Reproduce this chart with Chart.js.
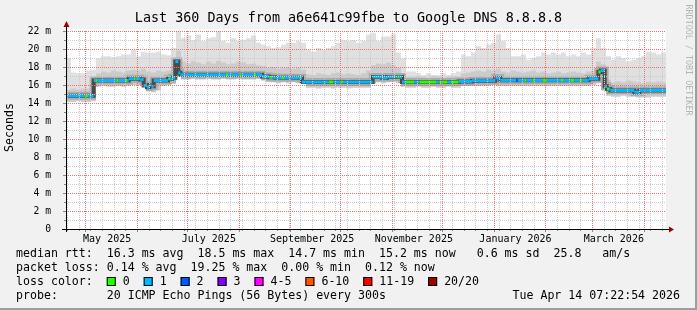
<!DOCTYPE html>
<html>
<head>
<meta charset="utf-8">
<script src="https://cdn.jsdelivr.net/npm/chart.js@4.4.1/dist/chart.umd.min.js"></script>
<style>
  html, body { margin: 0; padding: 0; background: #f1f1f1; }
  #wrap { width: 697px; height: 310px; }
</style>
</head>
<body>
<div id="wrap"><canvas id="graficaSmoke" width="697" height="310"></canvas></div>
<script>
// Texts
const titulo = 'Last 360 Days from a6e641c99fbe to Google DNS 8.8.8.8';
const yTitle = 'Seconds';
const watermark = 'RRDTOOL / TOBI OETIKER';
const legendRows = [
    'median rtt:  16.3 ms avg  18.5 ms max  14.7 ms min  15.2 ms now   0.6 ms sd  25.8   am/s',
    'packet loss: 0.14 % avg  19.25 % max  0.00 % min  0.12 % now'
];
const lossTitle = 'loss color:  ';
const probeRow = 'probe:       20 ICMP Echo Pings (56 Bytes) every 300s';
const stamp = 'Tue Apr 14 07:22:54 2026';

// Loss levels
const lossLabels = ['0', '1', '2', '3', '4-5', '6-10', '11-19', '20/20'];
const lossColors = ['#26ff00', '#00b8ff', '#0059ff', '#7e00ff', '#ff00ff', '#ff5500', '#ff0000', '#a10000'];

// X axis: days since Apr 19 2025 07:22
const monthStarts = [11.69, 42.69, 72.69, 103.69, 134.69, 164.69, 195.69, 225.69, 256.69, 287.69, 315.69, 346.69];
const monthLabels = ['May 2025', 'July 2025', 'September 2025', 'November 2025', 'January 2026', 'March 2026'];
const labelDays = [24.69, 85.69, 147.69, 208.69, 269.69, 328.69];
const firstSunday = 0.69;
const yMax = 22;

// Smoke envelopes (ms), one value every 3 days from day 0 to day 360
const envStep = 3;
const maxEnv = [
    19.0, 17.4, 17.3, 17.3, 17.6, 17.7, 19.0, 19.2, 19.2, 19.1, 19.2, 19.4, 19.4, 19.9, 19.2, 19.7,
    19.6, 19.6, 19.7, 19.4, 19.3, 20.1, 22.1, 21.2, 21.5, 21.0, 21.6, 20.9, 21.2, 21.3, 21.9, 20.9,
    20.7, 21.2, 20.9, 21.0, 21.2, 21.5, 20.7, 20.5, 20.3, 20.1, 20.2, 20.5, 20.7, 20.7, 20.9, 20.7,
    19.9, 19.7, 20.1, 19.9, 20.1, 20.3, 20.7, 21.0, 20.9, 21.0, 20.7, 20.9, 21.6, 21.8, 20.9, 21.4,
    21.4, 21.6, 19.6, 19.0, 17.5, 17.5, 17.3, 17.1, 17.3, 17.1, 17.1, 17.3, 17.1, 17.3, 17.5, 19.4,
    19.2, 19.6, 20.3, 20.1, 20.5, 20.7, 21.6, 20.9, 20.1, 19.2, 19.2, 19.4, 18.8, 19.0, 19.2, 19.6,
    19.4, 19.6, 19.4, 19.6, 19.2, 19.4, 19.2, 19.6, 19.4, 20.1, 21.2, 20.1, 19.2, 18.8, 19.2, 19.0,
    18.6, 18.8, 19.0, 19.2, 19.7, 19.6, 19.4, 19.6, 19.2
];
const midEnv = [
    15.5, 15.6, 15.5, 15.6, 15.6, 15.6, 17.3, 17.5, 17.4, 17.6, 17.5, 17.4, 17.6, 17.7, 17.6, 17.8,
    17.5, 17.4, 17.6, 17.5, 17.6, 17.8, 19.8, 18.6, 18.4, 18.7, 18.5, 18.3, 18.6, 18.4, 18.7, 18.5,
    18.3, 18.4, 18.6, 18.5, 18.3, 18.4, 18.2, 18.1, 17.9, 18.0, 17.8, 17.9, 18.0, 17.8, 17.9, 17.7,
    17.2, 17.1, 17.3, 17.2, 17.1, 17.3, 17.4, 17.2, 17.3, 17.2, 17.1, 17.3, 17.6, 18.2, 18.4, 18.3,
    18.5, 18.2, 17.9, 17.2, 16.9, 16.9, 17.0, 16.9, 16.8, 17.0, 16.9, 16.8, 16.9, 17.0, 16.9, 17.3,
    17.4, 17.5, 17.6, 17.5, 17.7, 17.6, 17.8, 17.5, 17.4, 17.6, 17.5, 17.4, 17.5, 17.6, 17.4, 17.5,
    17.3, 17.4, 17.5, 17.3, 17.4, 17.5, 17.4, 17.3, 17.5, 17.6, 18.6, 18.3, 16.6, 16.3, 16.4, 16.3,
    16.5, 16.4, 16.3, 16.2, 16.4, 16.3, 16.4, 16.3, 16.4
];
const minEnv = [
    14.1, 14.1, 14.2, 14.1, 14.1, 14.2, 15.8, 15.9, 15.8, 15.8, 15.9, 15.8, 15.9, 16.0, 16.0, 15.9,
    15.3, 15.2, 15.4, 15.9, 16.0, 16.1, 16.9, 16.6, 16.6, 16.7, 16.6, 16.6, 16.7, 16.6, 16.6, 16.7,
    16.6, 16.6, 16.7, 16.6, 16.6, 16.6, 16.7, 16.5, 16.3, 16.3, 16.2, 16.3, 16.2, 16.3, 16.2, 16.2,
    15.7, 15.7, 15.6, 15.7, 15.7, 15.6, 15.7, 15.7, 15.6, 15.7, 15.7, 15.7, 15.7, 16.2, 16.3, 16.2,
    16.3, 16.3, 16.2, 15.8, 15.7, 15.7, 15.8, 15.7, 15.7, 15.8, 15.7, 15.7, 15.8, 15.7, 15.7, 15.9,
    15.9, 15.9, 15.9, 15.9, 15.9, 16.0, 15.9, 15.9, 15.9, 15.9, 15.9, 15.9, 15.9, 15.9, 15.9, 15.9,
    15.9, 15.9, 15.9, 15.9, 15.9, 15.9, 15.9, 15.9, 15.9, 16.0, 16.2, 15.4, 14.8, 14.7, 14.7, 14.8,
    14.7, 14.7, 14.6, 14.6, 14.6, 14.7, 14.7, 14.7, 14.7
];

// Median rtt runs: start day, value (ms), loss level index
const medStart = [
    0, 11.5, 13.5, 16.6, 17.6, 18.8, 30.2, 31.4, 35.4, 36.6, 37.6, 40.6, 41.8, 44.6, 46.6, 48.6,
    50.0, 51.4, 52.6, 61.2, 61.8, 62.8, 63.6, 65.6, 67.4, 68.6, 96.0, 97.2, 104.2, 105.4, 113.0, 114.2,
    117.6, 121.6, 122.6, 123.8, 125.6, 129.6, 130.8, 141.6, 157.6, 160.4, 165.0, 166.2, 184.0, 189.6,
    192.6, 199.0, 200.2, 201.6, 203.6, 209.0, 212.0, 222.0, 224.0, 229.0, 231.0, 235.6, 243.6, 257.6,
    260.6, 270.0, 271.2, 275.0, 276.2, 280.0, 281.2, 286.0, 288.5, 297.0, 298.2, 303.0, 305.0, 308.0,
    310.0, 313.6, 319.4, 320.8, 323.2, 324.6, 325.8, 326.6, 341.0, 344.0
];
const medValue = [
    14.8, 14.8, 14.8, 16.5, 16.5, 16.5, 16.5, 16.5, 16.5, 16.5, 16.7, 16.7, 16.7, 16.6, 15.95, 15.75,
    16.0, 15.85, 16.5, 16.7, 16.7, 16.7, 16.8, 18.6, 17.35, 17.15, 17.15, 17.15, 17.15, 17.15, 17.15, 17.15,
    16.95, 16.85, 16.85, 16.85, 16.8, 16.8, 16.8, 16.33, 16.33, 16.33, 16.33, 16.33, 16.9, 16.8,
    16.9, 16.9, 16.9, 16.33, 16.33, 16.33, 16.33, 16.33, 16.33, 16.33, 16.33, 16.4, 16.48, 16.78,
    16.52, 16.52, 16.52, 16.52, 16.52, 16.52, 16.52, 16.52, 16.52, 16.52, 16.52, 16.52, 16.52, 16.52,
    16.52, 16.7, 17.45, 17.6, 15.85, 15.55, 15.55, 15.4, 15.2, 15.4
];
const medLoss = [
    1, 0, 1, 1, 0, 1, 0, 1, 0, 1, 1, 0, 1, 1, 1, 1,
    1, 1, 1, 1, 0, 1, 1, 1, 1, 1, 0, 1, 0, 1, 0, 1,
    1, 1, 0, 1, 1, 0, 1, 1, 0, 1, 0, 1, 1, 1,
    1, 0, 1, 1, 0, 1, 0, 1, 0, 1, 0, 1, 1, 1,
    1, 2, 1, 0, 1, 0, 1, 0, 1, 0, 1, 0, 1, 0,
    1, 1, 0, 1, 1, 0, 1, 1, 1, 1
];
const endDay = 360;

// Build points from the arrays
const envPoints = arr => arr.map((v, i) => ({ x: i * envStep, y: v }));
const stepPts = medStart.map((d, i) => ({ x: d, y: medValue[i] }));
stepPts.push({ x: endDay, y: medValue[medValue.length - 1] });
const runPts = [];
medStart.forEach((d, i) => {
    const end = i < medStart.length - 1 ? medStart[i + 1] : endDay;
    runPts.push({ x: d, y: medValue[i] }, { x: end, y: medValue[i] });
});

const weekTicks = [];
for (let d = firstSunday; d < endDay; d += 7) weekTicks.push(d);
const isMonth = v => monthStarts.some(m => Math.abs(m - v) < 0.01);
const weekOnly = weekTicks.filter(v => !isMonth(v));

const MGRID = '#ec6f6f';
const GRID = '#cbcbcb';
const FONT = '"DejaVu Sans Mono", monospace';
Chart.defaults.font.family = FONT;

// Dotted grid drawn over the smoke, rrdtool style
const rrdGrid = {
    id: 'rrdGrid',
    afterDatasetsDraw(chart) {
        const { ctx, chartArea: a, scales } = chart;
        const vline = (v, col) => {
            const px = Math.round(scales.x.getPixelForValue(v)) + 0.5;
            ctx.strokeStyle = col;
            ctx.beginPath(); ctx.moveTo(px, a.top); ctx.lineTo(px, a.bottom); ctx.stroke();
        };
        const hline = (v, col) => {
            const py = Math.round(scales.y.getPixelForValue(v)) + 0.5;
            ctx.strokeStyle = col;
            ctx.beginPath(); ctx.moveTo(a.left, py); ctx.lineTo(a.right, py); ctx.stroke();
        };
        ctx.save();
        ctx.lineWidth = 1;
        ctx.setLineDash([1, 1]);
        weekOnly.forEach(v => vline(v, GRID));
        for (let v = 1; v <= yMax; v += 2) hline(v, GRID);
        monthStarts.forEach(v => vline(v, MGRID));
        for (let v = 2; v <= yMax; v += 2) hline(v, MGRID);
        // tick marks
        ctx.setLineDash([]);
        ctx.strokeStyle = '#888';
        for (let v = 0; v <= yMax; v++) {
            const py = Math.round(scales.y.getPixelForValue(v)) + 0.5;
            ctx.beginPath(); ctx.moveTo(a.left - (v % 2 ? 2 : 3), py); ctx.lineTo(a.left, py); ctx.stroke();
        }
        weekTicks.concat(monthStarts).forEach(v => {
            const px = Math.round(scales.x.getPixelForValue(v)) + 0.5;
            ctx.beginPath(); ctx.moveTo(px, a.bottom); ctx.lineTo(px, a.bottom + (isMonth(v) ? 3 : 2)); ctx.stroke();
        });
        ctx.restore();
    }
};

// Background, axes, arrows and legend text
const decor = {
    id: 'decor',
    beforeDraw(chart) {
        const { ctx, chartArea: a } = chart;
        ctx.save();
        ctx.fillStyle = '#f1f1f1';
        ctx.fillRect(0, 0, chart.width, chart.height);
        ctx.fillStyle = '#ffffff';
        ctx.fillRect(a.left, a.top - 2, a.right - a.left, a.bottom - a.top + 2);
        ctx.restore();
    },
    afterDraw(chart) {
        const { ctx, chartArea: a } = chart;
        const x0 = Math.round(a.left) + 0.5;
        const y0 = Math.round(a.bottom) + 0.5;
        ctx.save();
        // axes
        ctx.strokeStyle = '#000';
        ctx.lineWidth = 1;
        ctx.beginPath();
        ctx.moveTo(a.left - 4, y0); ctx.lineTo(a.right + 3, y0);
        ctx.moveTo(x0, a.bottom + 3); ctx.lineTo(x0, a.top - 5);
        ctx.stroke();
        ctx.fillStyle = '#9b0000';
        ctx.beginPath();
        ctx.moveTo(a.right + 3, y0 - 3); ctx.lineTo(a.right + 8, y0); ctx.lineTo(a.right + 3, y0 + 3);
        ctx.closePath(); ctx.fill();
        ctx.beginPath();
        ctx.moveTo(x0 - 3, a.top - 4); ctx.lineTo(x0, a.top - 10); ctx.lineTo(x0 + 3, a.top - 4);
        ctx.closePath(); ctx.fill();

        // title
        ctx.fillStyle = '#000';
        ctx.textBaseline = 'middle';
        ctx.textAlign = 'center';
        ctx.font = '13.4px ' + FONT;
        ctx.fillText(titulo, chart.width / 2, 19);

        // y title
        ctx.font = '11.6px ' + FONT;
        ctx.save();
        ctx.translate(10, 127.5);
        ctx.rotate(-Math.PI / 2);
        ctx.fillText(yTitle, 0, 0);
        ctx.restore();

        // watermark
        ctx.save();
        ctx.fillStyle = '#b4b4b4';
        ctx.font = '8.4px ' + FONT;
        ctx.translate(688, 60);
        ctx.rotate(Math.PI / 2);
        ctx.fillText(watermark, 0, 0);
        ctx.restore();

        // legend rows
        ctx.textAlign = 'left';
        ctx.font = '11.6px ' + FONT;
        const lx = 16;
        legendRows.forEach((r, i) => ctx.fillText(r, lx, 254 + i * 14));
        const ly = 282;
        ctx.fillText(lossTitle, lx, ly);
        let bx = lx + ctx.measureText(lossTitle).width;
        lossLabels.forEach((lab, i) => {
            ctx.fillStyle = lossColors[i];
            ctx.fillRect(bx, ly - 5, 9, 9);
            ctx.strokeStyle = '#000';
            ctx.strokeRect(bx + 0.5, ly - 4.5, 8, 8);
            ctx.fillStyle = '#000';
            ctx.fillText(lab, bx + 16, ly);
            bx += 16 + ctx.measureText(lab + '  ').width;
        });
        ctx.fillText(probeRow, lx, 296);
        ctx.textAlign = 'right';
        ctx.fillText(stamp, 680, 296);

        // frame shade
        ctx.fillStyle = '#9e9e9e';
        ctx.fillRect(chart.width - 2, 0, 2, chart.height);
        ctx.fillRect(0, chart.height - 2, chart.width, 2);
        ctx.restore();
    }
};

const ctxSmoke = document.getElementById('graficaSmoke').getContext('2d');
const graficaSmoke = new Chart(ctxSmoke, {
    type: 'line',
    data: {
        datasets: [{
            label: 'max',
            data: envPoints(maxEnv),
            stepped: true,
            borderWidth: 0,
            backgroundColor: '#e0e0e0',
            fill: 'origin',
            order: 6
        }, {
            label: 'upper',
            data: envPoints(midEnv),
            stepped: true,
            borderWidth: 0,
            backgroundColor: '#cbcbcb',
            fill: 'origin',
            order: 5
        }, {
            label: 'smoke core',
            data: stepPts,
            stepped: true,
            borderWidth: 8,
            borderColor: '#ababab',
            fill: false,
            order: 4
        }, {
            label: 'min',
            data: envPoints(minEnv),
            stepped: true,
            borderWidth: 0,
            backgroundColor: '#ffffff',
            fill: 'origin',
            order: 3
        }, {
            label: 'median dark',
            data: stepPts,
            stepped: true,
            borderWidth: 4,
            borderColor: '#4a4a4a',
            fill: false,
            order: 2
        }, {
            label: 'median rtt',
            data: runPts,
            borderWidth: 3,
            borderColor: lossColors[1],
            segment: {
                borderColor: c => c.p0DataIndex % 2 === 1 ? 'rgba(0,0,0,0)' : lossColors[medLoss[c.p0DataIndex / 2]]
            },
            fill: false,
            order: 1
        }]
    },
    options: {
        responsive: false,
        animation: false,
        devicePixelRatio: 1,
        events: [],
        layout: { padding: { top: 31, right: 31, left: 0, bottom: 0 } },
        datasets: { line: { pointRadius: 0, clip: 0, xAxisID: 'x', yAxisID: 'y' } },
        plugins: { legend: { display: false }, tooltip: { enabled: false }, title: { display: false } },
        scales: {
            x: {
                type: 'linear', axis: 'x', position: 'bottom', weight: 0,
                min: 0, max: endDay,
                afterFit: s => { s.height = 3; },
                ticks: { display: false },
                grid: { display: false },
                border: { display: false }
            },
            xl: {
                type: 'linear', axis: 'x', position: 'bottom', weight: 1,
                min: 0, max: endDay,
                afterBuildTicks: s => { s.ticks = labelDays.map(v => ({ value: v })); },
                afterFit: s => { s.height = 78; },
                ticks: {
                    autoSkip: false, maxRotation: 0, padding: -7, color: '#000',
                    font: { size: 10 },
                    callback: (v, i) => monthLabels[i]
                },
                grid: { display: false },
                border: { display: false }
            },
            y: {
                type: 'linear', position: 'left',
                min: 0, max: yMax,
                afterBuildTicks: s => {
                    const t = [];
                    for (let v = 0; v <= yMax; v += 2) t.push({ value: v });
                    s.ticks = t;
                },
                afterFit: s => { s.width = 66; },
                ticks: {
                    autoSkip: false, padding: 7, color: '#000',
                    font: { size: 9.7 },
                    callback: v => v === 0 ? '0' : v + ' m'
                },
                grid: { display: false },
                border: { display: false }
            }
        }
    },
    plugins: [rrdGrid, decor]
});
</script>
</body>
</html>
